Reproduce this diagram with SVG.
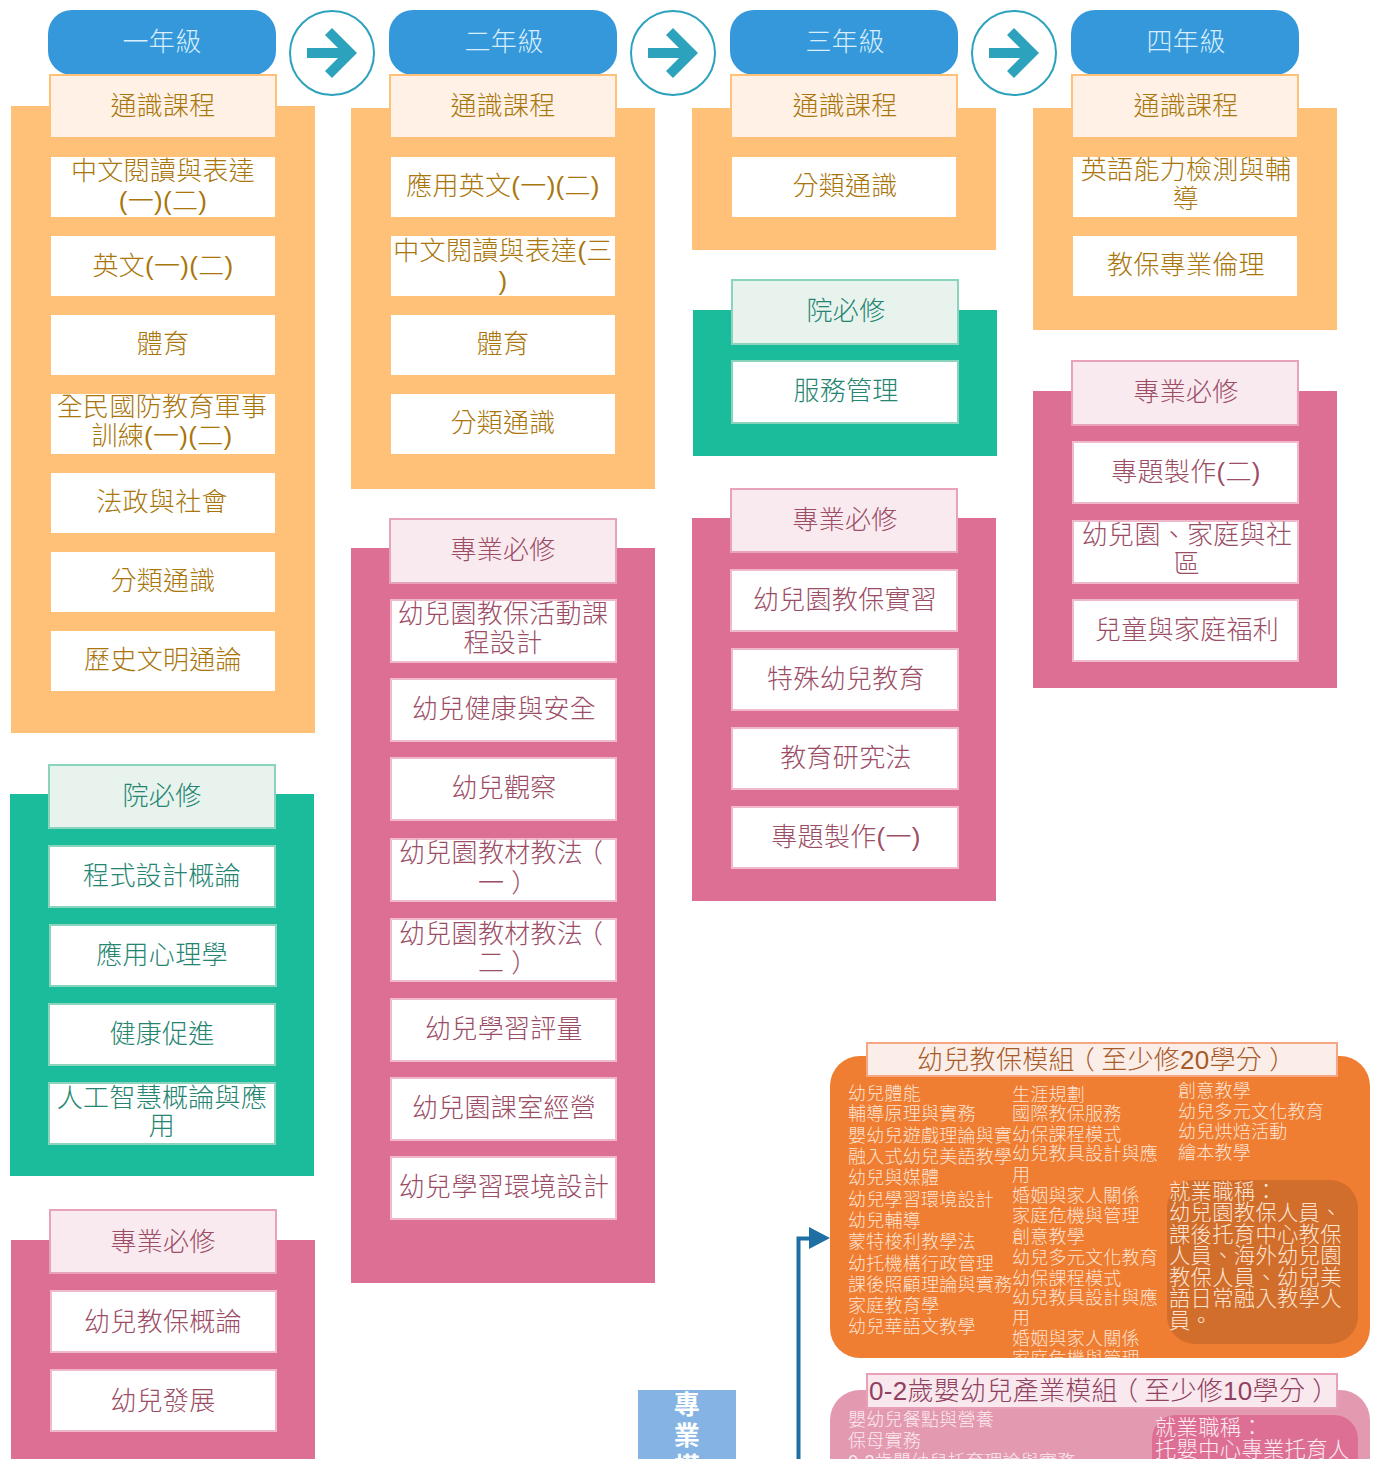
<svg xmlns="http://www.w3.org/2000/svg" width="1373" height="1459" viewBox="0 0 1373 1459">
<defs>
<style>
text{font-family:"Liberation Sans","Noto Sans CJK TC",sans-serif;font-size:26px;text-anchor:middle;font-weight:300;letter-spacing:.3px}
.hd rect{fill:#3498db}.hd text{fill:#d9eefb}
.circ circle{fill:#fff;stroke:#2ca2bc;stroke-width:2}.circ polygon{fill:#2ca2bc}
.po{fill:#ffc078}.pg{fill:#1abc9c}.pp{fill:#de6f94}
.so{fill:#fff1e6;stroke:#ffc078;stroke-width:2}.sg{fill:#e8f3ee;stroke:#8ad4be;stroke-width:2}.sp{fill:#f9eaef;stroke:#e8a3bb;stroke-width:2}
.io{fill:#fff}.ig{fill:#fff;stroke:#8ad4be;stroke-width:2}.ip{fill:#fff;stroke:#f0b8cb;stroke-width:2}
.to{fill:#a9760c}.tg{fill:#258571}.tp{fill:#9c4d66}
.to,.tg,.tp,.hd text,.l,.lp{transform:translateY(1px)}
.l{font-size:18px;text-anchor:start;fill:#fde3d2;letter-spacing:.25px}
.c{font-size:21.3px;text-anchor:start;fill:#fde3d2}
.lp{font-size:18px;text-anchor:start;fill:#fbeaf0;letter-spacing:.25px}
.cp{font-size:21.3px;text-anchor:start;fill:#fbeaf0}
.b{font-weight:700;fill:#fff}
.tt{text-anchor:start}
</style>
<clipPath id="m1"><rect x="830" y="1056" width="540" height="302"/></clipPath>
</defs>
<g id="panels">
<rect class="po" x="11" y="106" width="304" height="627"/>
<rect class="pg" x="10" y="794" width="304" height="382"/>
<rect class="pp" x="11" y="1240" width="304" height="219"/>
<rect class="po" x="351" y="108" width="304" height="381"/>
<rect class="pp" x="351" y="548" width="304" height="735"/>
<rect class="po" x="692" y="108" width="304" height="142"/>
<rect class="pg" x="693" y="310" width="304" height="146"/>
<rect class="pp" x="692" y="518" width="304" height="383"/>
<rect class="po" x="1033" y="108" width="304" height="222"/>
<rect class="pp" x="1033" y="391" width="304" height="297"/>
</g>
<g id="connectors">
<path d="M798.500 1459V1238.500H812" fill="none" stroke="#1f6fa5" stroke-width="4"/>
<polygon points="809,1227 830,1238 809,1249" fill="#1f6fa5"/>
</g>
<g id="y1" class="hd"><rect x="48" y="10" width="228" height="65" rx="24"/><text x="162" y="50">一年級</text></g>
<g id="y2" class="hd"><rect x="389" y="10" width="228" height="65" rx="24"/><text x="504" y="50">二年級</text></g>
<g id="y3" class="hd"><rect x="730" y="10" width="228" height="65" rx="24"/><text x="845" y="50">三年級</text></g>
<g id="y4" class="hd"><rect x="1071" y="10" width="228" height="65" rx="24"/><text x="1186" y="50">四年級</text></g>
<g id="a1" class="circ"><circle cx="332" cy="53" r="42"/><polygon points="307,48 338,48 325,35 332,28 357,53 332,78 325,71 338,58 307,58"/></g>
<g id="a2" class="circ"><circle cx="673" cy="53" r="42"/><polygon points="648,48 679,48 666,35 673,28 698,53 673,78 666,71 679,58 648,58"/></g>
<g id="a3" class="circ"><circle cx="1014" cy="53" r="42"/><polygon points="989,48 1020,48 1007,35 1014,28 1039,53 1014,78 1007,71 1020,58 989,58"/></g>

<g id="c1s1"><rect class="so" x="50" y="75" width="226" height="63"/><text class="to" x="163" y="114">通識課程</text></g>
<g id="c1a"><rect class="io" x="51" y="157" width="224" height="60"/><text class="to" x="163" y="179">中文閱讀與表達</text><text class="to" x="163" y="209">(一)(二)</text></g>
<g id="c1b"><rect class="io" x="51" y="236" width="224" height="60"/><text class="to" x="163" y="274">英文(一)(二)</text></g>
<g id="c1c"><rect class="io" x="51" y="315" width="224" height="60"/><text class="to" x="163" y="352">體育</text></g>
<g id="c1d"><rect class="io" x="51" y="394" width="224" height="60"/><text class="to" x="162" y="415">全民國防教育軍事</text><text class="to" x="162" y="444">訓練(一)(二)</text></g>
<g id="c1e"><rect class="io" x="51" y="473" width="224" height="60"/><text class="to" x="162" y="510">法政與社會</text></g>
<g id="c1f"><rect class="io" x="51" y="552" width="224" height="60"/><text class="to" x="163" y="589">分類通識</text></g>
<g id="c1g"><rect class="io" x="51" y="631" width="224" height="60"/><text class="to" x="163" y="668">歷史文明通論</text></g>

<g id="c1s2"><rect class="sg" x="49" y="765" width="226" height="63"/><text class="tg" x="162" y="804">院必修</text></g>
<g id="c1h"><rect class="ig" x="49" y="846" width="226" height="61"/><text class="tg" x="162" y="884">程式設計概論</text></g>
<g id="c1i"><rect class="ig" x="50" y="925" width="226" height="61"/><text class="tg" x="162" y="963">應用心理學</text></g>
<g id="c1j"><rect class="ig" x="49" y="1004" width="226" height="61"/><text class="tg" x="162" y="1042">健康促進</text></g>
<g id="c1k"><rect class="ig" x="49" y="1083" width="226" height="61"/><text class="tg" x="162" y="1106">人工智慧概論與應</text><text class="tg" x="162" y="1134">用</text></g>

<g id="c1s3"><rect class="sp" x="50" y="1210" width="226" height="63"/><text class="tp" x="163" y="1250">專業必修</text></g>
<g id="c1l"><rect class="ip" x="51" y="1291" width="225" height="61"/><text class="tp" x="163" y="1330">幼兒教保概論</text></g>
<g id="c1m"><rect class="ip" x="51" y="1370" width="225" height="61"/><text class="tp" x="163" y="1409">幼兒發展</text></g>

<g id="c2s1"><rect class="so" x="390" y="75" width="226" height="63"/><text class="to" x="503" y="114">通識課程</text></g>
<g id="c2a"><rect class="io" x="391" y="157" width="224" height="60"/><text class="to" x="503" y="194">應用英文(一)(二)</text></g>
<g id="c2b"><rect class="io" x="391" y="236" width="224" height="60"/><text class="to" x="503" y="259">中文閱讀與表達(三</text><text class="to" x="503" y="289">)</text></g>
<g id="c2c"><rect class="io" x="391" y="315" width="224" height="60"/><text class="to" x="503" y="352">體育</text></g>
<g id="c2d"><rect class="io" x="391" y="394" width="224" height="60"/><text class="to" x="503" y="431">分類通識</text></g>

<g id="c2s2"><rect class="sp" x="390" y="519" width="226" height="64"/><text class="tp" x="503" y="558">專業必修</text></g>
<g id="c2e"><rect class="ip" x="391" y="600" width="225" height="62"/><text class="tp" x="503" y="622">幼兒園教保活動課</text><text class="tp" x="503" y="651">程設計</text></g>
<g id="c2f"><rect class="ip" x="391" y="679" width="225" height="62"/><text class="tp" x="504" y="717">幼兒健康與安全</text></g>
<g id="c2g"><rect class="ip" x="391" y="758" width="225" height="62"/><text class="tp" x="504" y="796">幼兒觀察</text></g>
<g id="c2h"><rect class="ip" x="391" y="839" width="225" height="62"/><text class="tp tt" x="399" y="861">幼兒園教材教法<tspan dx="-6">（</tspan></text><text class="tp tt" x="478" y="891">一<tspan dx="7">）</tspan></text></g>
<g id="c2i"><rect class="ip" x="391" y="919" width="225" height="62"/><text class="tp tt" x="399" y="942">幼兒園教材教法<tspan dx="-6">（</tspan></text><text class="tp tt" x="478" y="971">二<tspan dx="7">）</tspan></text></g>
<g id="c2j"><rect class="ip" x="391" y="999" width="225" height="62"/><text class="tp" x="504" y="1037">幼兒學習評量</text></g>
<g id="c2k"><rect class="ip" x="391" y="1078" width="225" height="62"/><text class="tp" x="504" y="1116">幼兒園課室經營</text></g>
<g id="c2l"><rect class="ip" x="391" y="1157" width="225" height="62"/><text class="tp" x="504" y="1195">幼兒學習環境設計</text></g>

<g id="c3s1"><rect class="so" x="731" y="75" width="226" height="63"/><text class="to" x="845" y="114">通識課程</text></g>
<g id="c3a"><rect class="io" x="732" y="157" width="224" height="60"/><text class="to" x="845" y="194">分類通識</text></g>
<g id="c3s2"><rect class="sg" x="732" y="280" width="226" height="64"/><text class="tg" x="846" y="319">院必修</text></g>
<g id="c3b"><rect class="ig" x="732" y="361" width="226" height="62"/><text class="tg" x="846" y="399">服務管理</text></g>
<g id="c3s3"><rect class="sp" x="731" y="489" width="226" height="63"/><text class="tp" x="845" y="528">專業必修</text></g>
<g id="c3c"><rect class="ip" x="731" y="570" width="226" height="61"/><text class="tp" x="845" y="608">幼兒園教保實習</text></g>
<g id="c3d"><rect class="ip" x="732" y="649" width="226" height="61"/><text class="tp" x="846" y="687">特殊幼兒教育</text></g>
<g id="c3e"><rect class="ip" x="732" y="728" width="226" height="61"/><text class="tp" x="846" y="766">教育研究法</text></g>
<g id="c3f"><rect class="ip" x="732" y="807" width="226" height="61"/><text class="tp" x="846" y="845">專題製作(一)</text></g>

<g id="c4s1"><rect class="so" x="1072" y="75" width="226" height="63"/><text class="to" x="1186" y="114">通識課程</text></g>
<g id="c4a"><rect class="io" x="1073" y="157" width="224" height="60"/><text class="to" x="1186" y="178">英語能力檢測與輔</text><text class="to" x="1186" y="207">導</text></g>
<g id="c4b"><rect class="io" x="1073" y="236" width="224" height="60"/><text class="to" x="1186" y="273">教保專業倫理</text></g>
<g id="c4s2"><rect class="sp" x="1072" y="361" width="226" height="64"/><text class="tp" x="1186" y="400">專業必修</text></g>
<g id="c4c"><rect class="ip" x="1073" y="442" width="225" height="61"/><text class="tp" x="1186" y="480">專題製作(二)</text></g>
<g id="c4d"><rect class="ip" x="1073" y="521" width="225" height="62"/><text class="tp" x="1187" y="543">幼兒園、家庭與社</text><text class="tp" x="1187" y="572">區</text></g>
<g id="c4e"><rect class="ip" x="1073" y="600" width="225" height="61"/><text class="tp" x="1187" y="638">兒童與家庭福利</text></g>

<g id="prof"><rect x="638" y="1390" width="98" height="69" fill="#85b3e3"/><text class="b" x="687" y="1414">專</text><text class="b" x="687" y="1445">業</text><text class="b" x="687" y="1476">模</text></g>

<g id="mod1">
<rect x="830" y="1056" width="540" height="302" rx="30" fill="#ef7d32"/>
<rect x="1167" y="1180" width="191" height="164" rx="28" fill="#d26e2c"/>
<rect x="867" y="1043" width="470" height="33" fill="#fbeee8" stroke="#f4a582" stroke-width="2"/>
<text class="tt" x="917" y="1069" fill="#a85a28">幼兒教保模組<tspan dx="-6">（</tspan><tspan dx="6">至少修20學分</tspan><tspan dx="7">）</tspan></text>
<g clip-path="url(#m1)">
<text class="l" x="848" y="1099">幼兒體能</text>
<text class="l" x="848" y="1119">輔導原理與實務</text>
<text class="l" x="848" y="1141">嬰幼兒遊戲理論與實</text>
<text class="l" x="848" y="1162">融入式幼兒美語教學</text>
<text class="l" x="848" y="1183">幼兒與媒體</text>
<text class="l" x="848" y="1205">幼兒學習環境設計</text>
<text class="l" x="848" y="1226">幼兒輔導</text>
<text class="l" x="848" y="1247">蒙特梭利教學法</text>
<text class="l" x="848" y="1269">幼托機構行政管理</text>
<text class="l" x="848" y="1290">課後照顧理論與實務</text>
<text class="l" x="848" y="1311">家庭教育學</text>
<text class="l" x="848" y="1332">幼兒華語文教學</text>
<text class="l" x="1012" y="1100">生涯規劃</text>
<text class="l" x="1012" y="1119">國際教保服務</text>
<text class="l" x="1012" y="1140">幼保課程模式</text>
<text class="l" x="1012" y="1159">幼兒教具設計與應</text>
<text class="l" x="1012" y="1180">用</text>
<text class="l" x="1012" y="1201">婚姻與家人關係</text>
<text class="l" x="1012" y="1221">家庭危機與管理</text>
<text class="l" x="1012" y="1242">創意教學</text>
<text class="l" x="1012" y="1263">幼兒多元文化教育</text>
<text class="l" x="1012" y="1284">幼保課程模式</text>
<text class="l" x="1012" y="1303">幼兒教具設計與應</text>
<text class="l" x="1012" y="1323">用</text>
<text class="l" x="1012" y="1344">婚姻與家人關係</text>
<text class="l" x="1012" y="1364">家庭危機與管理</text>
<text class="l" x="1178" y="1096">創意教學</text>
<text class="l" x="1178" y="1117">幼兒多元文化教育</text>
<text class="l" x="1178" y="1137">幼兒烘焙活動</text>
<text class="l" x="1178" y="1158">繪本教學</text>
</g>
<text class="c" x="1169" y="1199">就業職稱：</text>
<text class="c" x="1169" y="1220">幼兒園教保人員、</text>
<text class="c" x="1169" y="1242">課後托育中心教保</text>
<text class="c" x="1169" y="1263">人員、海外幼兒園</text>
<text class="c" x="1169" y="1285">教保人員、幼兒美</text>
<text class="c" x="1169" y="1306">語日常融入教學人</text>
<text class="c" x="1169" y="1328">員。</text>
</g>

<g id="mod2">
<rect x="830" y="1390" width="540" height="120" rx="30" fill="#e39ab0"/>
<rect x="1152" y="1415" width="206" height="90" rx="24" fill="#de6f94"/>
<rect x="867" y="1374" width="470" height="34" fill="#f9e8ee" stroke="#e8a0b8" stroke-width="2"/>
<text class="tt" x="869" y="1400" fill="#8f4160">0-2歲嬰幼兒產業模組<tspan dx="-6">（</tspan><tspan dx="6">至少修10學分</tspan><tspan dx="7">）</tspan></text>
<text class="lp" x="848" y="1425">嬰幼兒餐點與營養</text>
<text class="lp" x="848" y="1446">保母實務</text>
<text class="lp" x="848" y="1467">0-2歲嬰幼兒托育理論與實務</text>
<text class="cp" x="1155" y="1435">就業職稱：</text>
<text class="cp" x="1155" y="1457">托嬰中心專業托育人</text>
</g>
</svg>
